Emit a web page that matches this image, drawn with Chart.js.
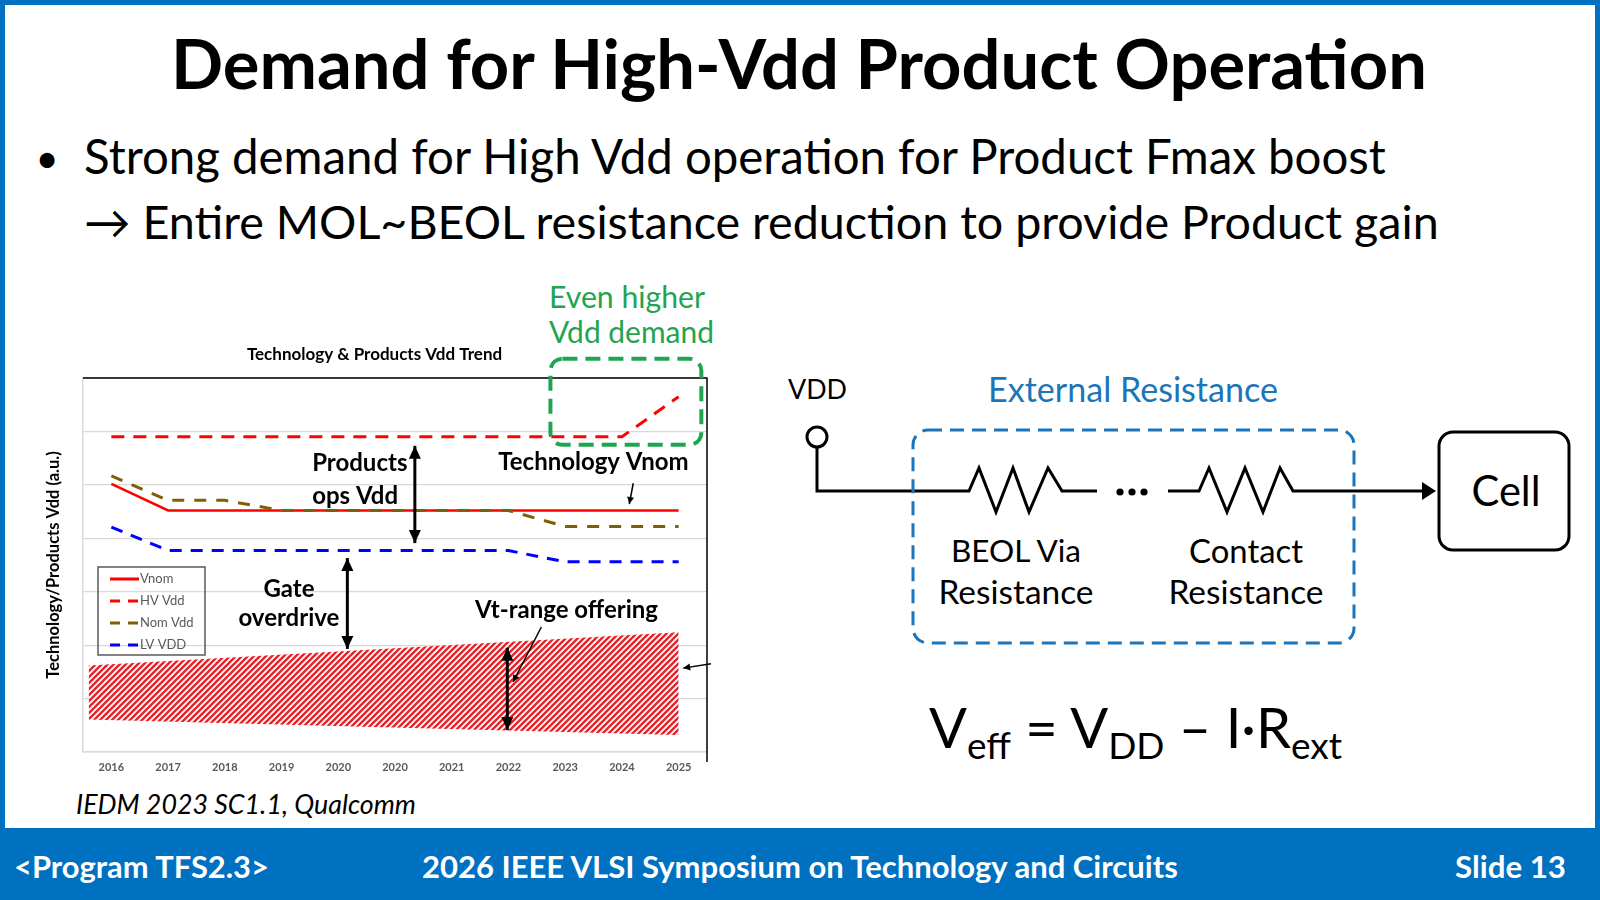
<!DOCTYPE html>
<html>
<head>
<meta charset="utf-8">
<title>Demand for High-Vdd Product Operation</title>
<script src="https://cdn.jsdelivr.net/npm/chart.js@4.4.1/dist/chart.umd.min.js"></script>
<style>
  html, body { margin: 0; padding: 0; }
  body {
    width: 1600px; height: 900px; position: relative; overflow: hidden;
    background: #fff; color: #000; font-family: Lato, "Open Sans", sans-serif;
  }
  .frame { position: absolute; left: 0; top: 0; width: 1600px; height: 900px; box-sizing: border-box; border: 5px solid #0070c0; }
  .footer { position: absolute; left: 0; top: 828px; width: 1600px; height: 72px; background: #0070c0; }
  .diagram { position: absolute; left: 0; top: 0; }
  .t { position: absolute; white-space: nowrap; line-height: 1; }
  .l { transform: translateY(-50%); }
  .c { transform: translate(-50%, -50%); }
  .b { font-weight: 700; }
  .green { color: #1fa450; }
  .blue { color: #1b75bb; }
  .white { color: #fff; }
  .formula sub { font-size: 0.66em; position: relative; top: 0.3em; vertical-align: baseline; }
  #chartBox { position: absolute; left: 42px; top: 340px; width: 688px; height: 440px; }
</style>
</head>
<body>
<div class="frame"></div>
<div class="footer"></div>

<svg class="diagram" width="1600" height="900" viewBox="0 0 1600 900">
  <g fill="none" stroke="#000" stroke-width="3" stroke-linejoin="miter">
    <polyline points="817,447 817,491 969,491 979,468 996,512 1013,468 1029,512 1048,468 1062,491 1097,491"/>
    <polyline points="1168,491 1199,491 1209,468 1227,512 1245,468 1263,512 1280,468 1293,491 1424,491"/>
    <circle cx="817" cy="437" r="10" fill="#fff"/>
    <rect x="1439" y="432" width="130" height="118" rx="14"/>
  </g>
  <polygon points="1422,482 1436,491 1422,500" fill="#000"/>
  <g fill="#000">
    <circle cx="1120" cy="492" r="3.6"/>
    <circle cx="1132" cy="492" r="3.6"/>
    <circle cx="1144" cy="492" r="3.6"/>
  </g>
  <rect x="913" y="430" width="441" height="213" rx="15" fill="none" stroke="#1b75bb" stroke-width="3" stroke-dasharray="14 8"/>
</svg>

<div class="t c b" style="left:799px; top:63px; font-size:64px" data-w="1256">Demand for High-Vdd Product Operation</div>
<div class="t c" style="left:47px; top:158px; font-size:40px">•</div>
<div class="t l" style="left:84px; top:156px; font-size:46px" data-w="1302">Strong demand for High Vdd operation for Product Fmax boost</div>
<div class="t l" style="left:84px; top:221px; font-size:46px" data-w="1355">→ Entire MOL~BEOL resistance reduction to provide Product gain</div>

<div class="t l green" style="left:549px; top:296px; font-size:28px" data-w="156">Even higher</div>
<div class="t l green" style="left:549px; top:332px; font-size:28px" data-w="165">Vdd demand</div>

<div class="t l" style="left:788px; top:389px; font-size:28px" data-w="59">VDD</div>
<div class="t l blue" style="left:988px; top:389px; font-size:30px" data-w="290">External Resistance</div>
<div class="t c" style="left:1016px; top:551px; font-size:30px" data-w="130">BEOL Via</div>
<div class="t c" style="left:1016px; top:592px; font-size:30px" data-w="155">Resistance</div>
<div class="t c" style="left:1246px; top:551px; font-size:30px" data-w="114">Contact</div>
<div class="t c" style="left:1246px; top:592px; font-size:30px" data-w="155">Resistance</div>
<div class="t c" style="left:1506px; top:491px; font-size:36px" data-w="69">Cell</div>
<div class="t l formula" style="left:929px; top:727px; font-size:62px" data-w="413">V<sub>eff</sub> = V<sub>DD</sub> – I·R<sub>ext</sub></div>

<div class="t l" style="left:76px; top:804px; font-size:24px; font-style:italic" data-w="340">IEDM 2023 SC1.1, Qualcomm</div>

<div class="t l b white" style="left:14px; top:867px; font-size:28px" data-w="255">&lt;Program TFS2.3&gt;</div>
<div class="t l b white" style="left:422px; top:867px; font-size:28px" data-w="756">2026 IEEE VLSI Symposium on Technology and Circuits</div>
<div class="t l b white" style="left:1455px; top:867px; font-size:28px" data-w="111">Slide 13</div>

<div id="chartBox"><canvas id="vddTrend"></canvas></div>

<script>
// x categories (note: 2020 appears twice on the original axis)
const years = ["2016", "2017", "2018", "2019", "2020", "2020", "2021", "2022", "2023", "2024", "2025"];
const seriesNames = ["Vnom", "HV Vdd", "Nom Vdd", "LV VDD"];
const vnom = [5.02, 4.52, 4.52, 4.52, 4.52, 4.52, 4.52, 4.52, 4.52, 4.52, 4.52];
const hvVdd = [5.9, 5.9, 5.9, 5.9, 5.9, 5.9, 5.9, 5.9, 5.9, 5.9, 6.65];
const nomVdd = [5.17, 4.71, 4.71, 4.52, 4.52, 4.52, 4.52, 4.52, 4.22, 4.22, 4.22];
const lvVdd = [4.21, 3.77, 3.77, 3.77, 3.77, 3.77, 3.77, 3.77, 3.56, 3.56, 3.56];
// Vt-range band (left edge sits a bit before 2016)
const vtRangeX = [-0.4, 10];
const vtRangeLow = [0.61, 0.32];
const vtRangeHigh = [1.62, 2.24];
const yTicks = [0, 1, 2, 3, 4, 5, 6, 7];

function fitText(el) {
  const w = parseFloat(el.dataset.w);
  const size = parseFloat(getComputedStyle(el).fontSize);
  const now = el.getBoundingClientRect().width;
  if (now > 0) el.style.fontSize = (size * w / now).toFixed(2) + "px";
}

function toPoints(values, xs) {
  return values.map((v, i) => ({ x: xs ? xs[i] : i, y: v }));
}

function makeHatch() {
  const n = 6;
  const p = document.createElement("canvas");
  p.width = n;
  p.height = n;
  const c = p.getContext("2d");
  c.fillStyle = "#fff";
  c.fillRect(0, 0, n, n);
  c.strokeStyle = "#e5242b";
  c.lineWidth = 2.4;
  c.beginPath();
  c.moveTo(-1, n + 1); c.lineTo(n + 1, -1);
  c.moveTo(-n / 2, n / 2); c.lineTo(n / 2, -n / 2);
  c.moveTo(n / 2, n * 1.5); c.lineTo(n * 1.5, n / 2);
  c.stroke();
  return p.getContext("2d").createPattern(p, "repeat");
}

function arrowHead(ctx, x1, y1, x2, y2, len, half) {
  const a = Math.atan2(y2 - y1, x2 - x1);
  ctx.beginPath();
  ctx.moveTo(x2, y2);
  ctx.lineTo(x2 - len * Math.cos(a) + half * Math.sin(a), y2 - len * Math.sin(a) - half * Math.cos(a));
  ctx.lineTo(x2 - len * Math.cos(a) - half * Math.sin(a), y2 - len * Math.sin(a) + half * Math.cos(a));
  ctx.closePath();
  ctx.fill();
}

function arrow(ctx, x1, y1, x2, y2, width, both) {
  const len = width > 2 ? 13 : 7;
  const half = width > 2 ? 6 : 3.5;
  ctx.lineWidth = width;
  ctx.beginPath();
  ctx.moveTo(x1, y1);
  ctx.lineTo(x2, y2);
  ctx.stroke();
  arrowHead(ctx, x1, y1, x2, y2, len, half);
  if (both) arrowHead(ctx, x2, y2, x1, y1, len, half);
}

const legendBox = {
  id: "legendBox",
  afterDatasetsDraw(chart) {
    const { ctx, chartArea: a } = chart;
    const x0 = a.left + 15, y0 = a.top + 189;
    ctx.save();
    ctx.strokeStyle = "#595959";
    ctx.lineWidth = 1.5;
    ctx.strokeRect(x0, y0, 107, 88);
    ctx.font = "13px Lato";
    ctx.textBaseline = "middle";
    chart.data.datasets.filter((d) => seriesNames.includes(d.label)).forEach((d, i) => {
      const y = y0 + 12 + i * 22;
      ctx.strokeStyle = d.borderColor;
      ctx.lineWidth = 3;
      ctx.setLineDash(d.borderDash ? [10, 8] : []);
      ctx.beginPath();
      ctx.moveTo(x0 + 12, y);
      ctx.lineTo(x0 + 41, y);
      ctx.stroke();
      ctx.fillStyle = "#595959";
      ctx.fillText(d.label, x0 + 42, y);
    });
    ctx.restore();
  },
};

const notes = {
  id: "notes",
  afterDraw(chart) {
    const { ctx, chartArea: a, scales } = chart;
    const X = (v) => scales.x.getPixelForValue(v);
    const Y = (v) => scales.y.getPixelForValue(v);
    ctx.save();

    // frame top + right
    ctx.strokeStyle = "#000";
    ctx.lineWidth = 1.5;
    ctx.beginPath();
    ctx.moveTo(a.left, a.top);
    ctx.lineTo(a.right, a.top);
    ctx.lineTo(a.right, a.bottom + 10);
    ctx.stroke();

    // green callout box
    ctx.strokeStyle = "#1fa450";
    ctx.lineWidth = 4;
    ctx.setLineDash([15, 8]);
    ctx.beginPath();
    ctx.roundRect(X(7.74), Y(7.36), X(10.4) - X(7.74), Y(5.75) - Y(7.36), 12);
    ctx.stroke();
    ctx.setLineDash([]);

    ctx.fillStyle = "#000";
    ctx.strokeStyle = "#000";
    arrow(ctx, X(5.35), Y(5.73), X(5.35), Y(3.91), 3, true);
    arrow(ctx, X(4.16), Y(3.63), X(4.16), Y(1.93), 3, true);
    arrow(ctx, X(6.98), Y(1.95), X(6.98), Y(0.41), 3, true);
    arrow(ctx, X(9.2), Y(5.03), X(9.13), Y(4.64), 1.5, false);
    arrow(ctx, X(7.58), Y(2.34), X(7.08), Y(1.31), 1.5, false);
    arrow(ctx, X(10.57), Y(1.65), X(10.08), Y(1.57), 1.5, false);

    ctx.font = "bold 24px Lato";
    ctx.textBaseline = "middle";
    ctx.textAlign = "left";
    ctx.fillText("Products", X(3.54), Y(5.41));
    ctx.fillText("ops Vdd", X(3.54), Y(4.79));
    ctx.fillText("Technology Vnom", X(6.82), Y(5.43));
    ctx.fillText("Vt-range offering", X(6.41), Y(2.66));
    ctx.textAlign = "center";
    ctx.fillText("Gate", X(3.13), Y(3.05));
    ctx.fillText("overdrive", X(3.13), Y(2.51));
    ctx.restore();
  },
};

function initVddChart() {
  const el = document.getElementById("vddTrend");
  const hatch = makeHatch();
  return new Chart(el.getContext("2d"), {
    type: "line",
    data: {
      datasets: [
        { label: seriesNames[0], data: toPoints(vnom), borderColor: "#ff0000", borderWidth: 2.5, order: 1 },
        { label: seriesNames[1], data: toPoints(hvVdd), borderColor: "#ff0000", borderWidth: 3, borderDash: [13, 9], order: 1 },
        { label: seriesNames[2], data: toPoints(nomVdd), borderColor: "#7f6000", borderWidth: 3, borderDash: [12, 10], order: 0 },
        { label: seriesNames[3], data: toPoints(lvVdd), borderColor: "#0000ff", borderWidth: 3, borderDash: [12, 9], order: 1 },
        { label: "vtLow", data: toPoints(vtRangeLow, vtRangeX), borderWidth: 0, fill: false, order: 5 },
        { label: "vtHigh", data: toPoints(vtRangeHigh, vtRangeX), borderWidth: 0, fill: "-1", backgroundColor: hatch, order: 5 },
      ],
    },
    options: {
      responsive: true,
      maintainAspectRatio: false,
      animation: false,
      elements: { point: { radius: 0 }, line: { tension: 0 } },
      layout: { padding: { left: 0, right: 23, top: 0, bottom: 0 } },
      plugins: {
        legend: { display: false },
        tooltip: { enabled: false },
        title: {
          display: true,
          text: "Technology & Products Vdd Trend",
          color: "#000",
          font: { family: "Lato", size: 17, weight: "bold" },
          padding: { top: 4.8, bottom: 12.8 },
        },
      },
      scales: {
        x: {
          type: "linear",
          min: -0.5,
          max: 10.5,
          afterBuildTicks: (s) => { s.ticks = years.map((_, i) => ({ value: i })); },
          afterFit: (s) => { s.height = 28; },
          ticks: {
            callback: (v) => years[v] ?? "",
            color: "#595959",
            font: { family: "Lato", size: 11, weight: "bold" },
            padding: 9,
            maxRotation: 0,
            autoSkip: false,
          },
          grid: { display: false, drawTicks: false },
          border: { color: "#d9d9d9", width: 1.5 },
        },
        y: {
          min: 0,
          max: 7,
          afterBuildTicks: (s) => { s.ticks = yTicks.map((v) => ({ value: v })); },
          afterFit: (s) => { s.width = 41; },
          ticks: { display: false },
          grid: { color: "#d9d9d9", lineWidth: 1.2, drawTicks: false },
          border: { color: "#d9d9d9", width: 1.5 },
          title: {
            display: true,
            text: "Technology/Products Vdd (a.u.)",
            color: "#000",
            font: { family: "Lato", size: 16.5, weight: "bold" },
            padding: { top: 2, bottom: 2 },
          },
        },
      },
    },
    plugins: [legendBox, notes],
  });
}

function initSlide() {
  document.querySelectorAll("[data-w]").forEach(fitText);
  initVddChart();
}

Promise.all([
  document.fonts.load("bold 16px Lato"),
  document.fonts.load("13px Lato"),
  document.fonts.load("italic 24px Lato"),
]).catch(() => null).then(() => document.fonts.ready).then(initSlide);
</script>
</body>
</html>
